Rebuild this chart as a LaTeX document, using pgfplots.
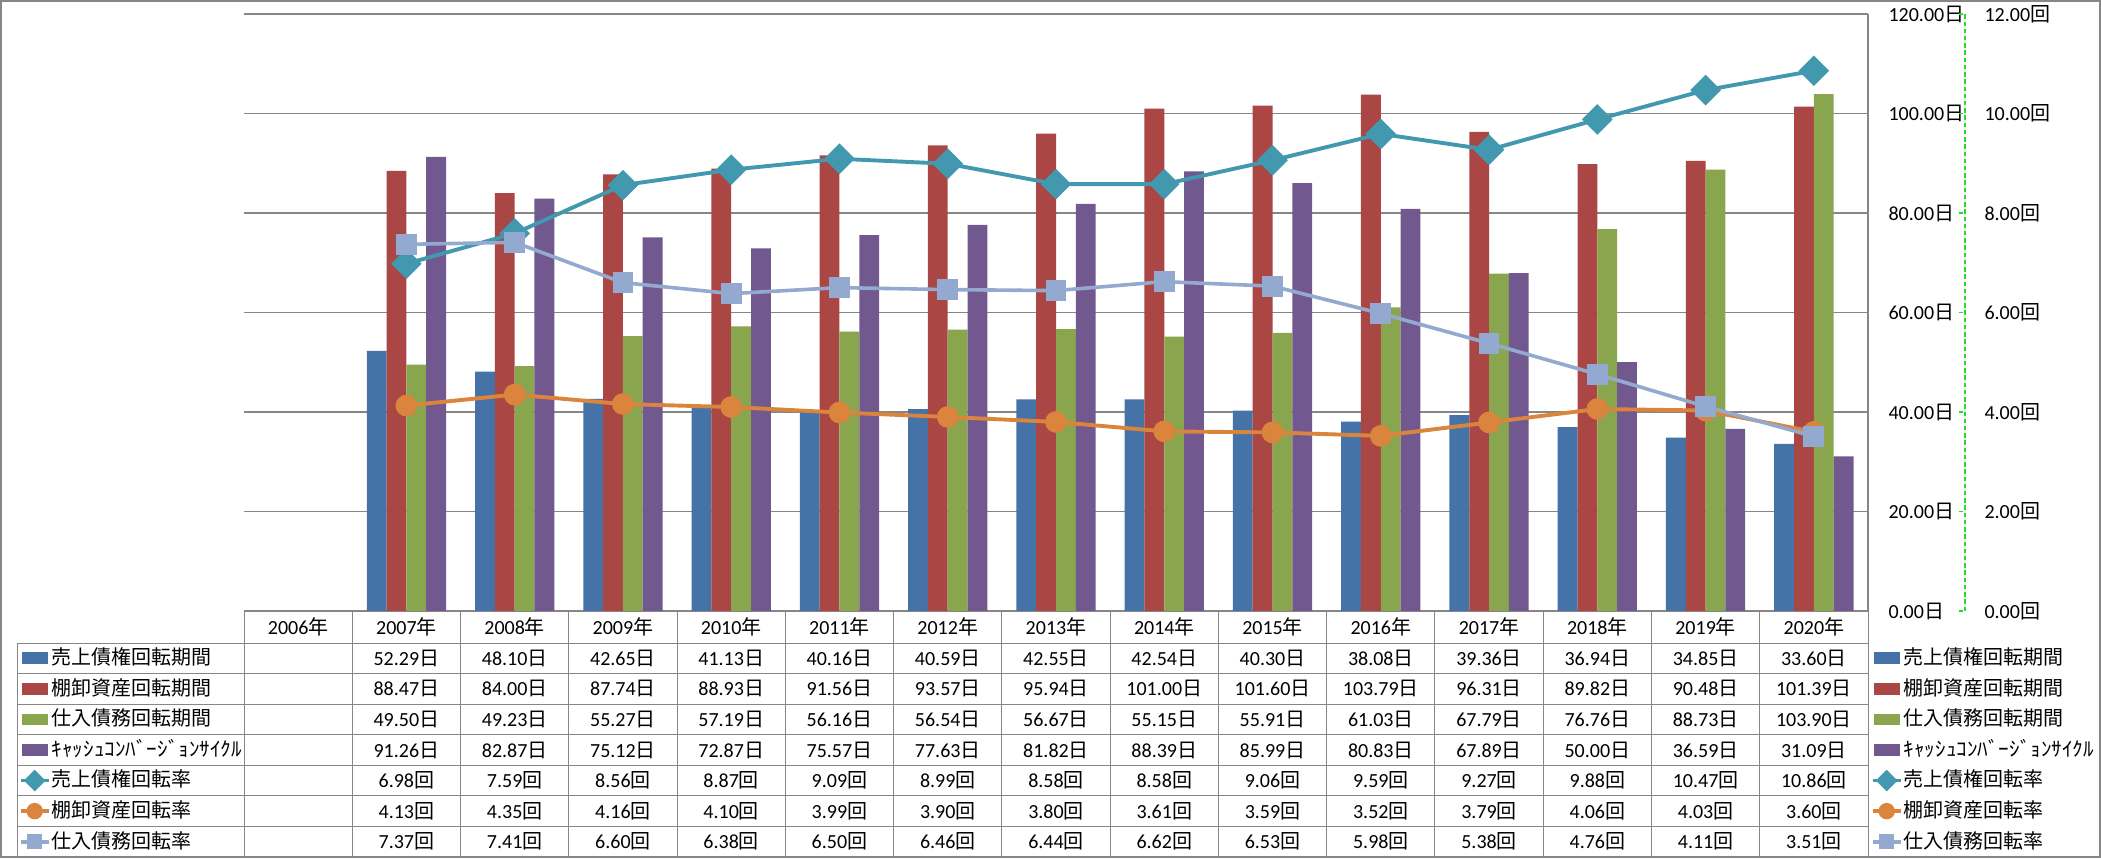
\documentclass[border=0pt]{standalone}
\usepackage{fontspec}
\setmainfont{Carlito}
\newfontfamily\jp{Noto Sans CJK JP}
\usepackage{graphicx}
\usepackage{pgfplots}
\usepackage{pgfplotstable}
\pgfplotsset{compat=1.18}
\definecolor{cA}{HTML}{4572A7}
\definecolor{cB}{HTML}{AA4643}
\definecolor{cC}{HTML}{89A54E}
\definecolor{cD}{HTML}{71588F}
\definecolor{cE}{HTML}{4198AF}
\definecolor{cF}{HTML}{DB843D}
\definecolor{cG}{HTML}{93A9CF}
\definecolor{gridc}{HTML}{868686}
\definecolor{gline}{HTML}{22DD22}
\newcommand\D{{\jp 日}}
\newcommand\K{{\jp 回}}
\newcommand\fs{\fontsize{7.2}{8.6}\selectfont}
\newcommand\ccc{\resizebox{68.5pt}{\height}{ｷｬｯｼｭｺﾝﾊﾞｰｼﾞｮﾝｻｲｸﾙ}}

\pgfplotstableread{
x a b c d e f g
1 52.29 88.47 49.50 91.26 6.98 4.13 7.37
2 48.10 84.00 49.23 82.87 7.59 4.35 7.41
3 42.65 87.74 55.27 75.12 8.56 4.16 6.60
4 41.13 88.93 57.19 72.87 8.87 4.10 6.38
5 40.16 91.56 56.16 75.57 9.09 3.99 6.50
6 40.59 93.57 56.54 77.63 8.99 3.90 6.46
7 42.55 95.94 56.67 81.82 8.58 3.80 6.44
8 42.54 101.00 55.15 88.39 8.58 3.61 6.62
9 40.30 101.60 55.91 85.99 9.06 3.59 6.53
10 38.08 103.79 61.03 80.83 9.59 3.52 5.98
11 39.36 96.31 67.79 67.89 9.27 3.79 5.38
12 36.94 89.82 76.76 50.00 9.88 4.06 4.76
13 34.85 90.48 88.73 36.59 10.47 4.03 4.11
14 33.60 101.39 103.90 31.09 10.86 3.60 3.51
}\data

\newcommand\barkey[1]{\addlegendimage{legend image code/.code={\fill[#1] (0.5pt,-1.9pt) rectangle (9.5pt,1.9pt);}}}
\newcommand\linekey[2]{\addlegendimage{legend image code/.code={\draw[#1, line width=1.3pt, mark repeat=2, mark phase=2, mark options={solid,fill=#1,draw=#1}, #2] plot coordinates {(0pt,0pt) (5pt,0pt) (10pt,0pt)};}}}

\pgfplotsset{
  base/.style={at={(87.84pt,88.92pt)}, anchor=south west, scale only axis,
    width=584.64pt, height=214.92pt, xmin=-0.5, xmax=14.5,
    axis x line=none, axis y line*=right, axis line style={-},
    major tick length=0pt,
    tick label style={font=\fs, anchor=west, inner sep=0pt}},
  keyaxis/.style={at={(0pt,0pt)}, anchor=south west, scale only axis,
    width=756.36pt, height=308.88pt, hide axis, xmin=0, xmax=1, ymin=0, ymax=1,
    legend cell align=left,
    legend style={draw=none, fill=none, inner sep=0pt, outer sep=0pt,
      row sep=0pt, column sep=0pt, font=\jp\fs,
      nodes={inner xsep=0.5pt, inner ysep=0pt, minimum height=11.005pt}}},
}

\begin{document}
\begin{tikzpicture}[x=0.36pt,y=0.36pt]
% primary axis (days)
\begin{axis}[base, ymin=0, ymax=120, ytick={0,20,...,120},
  ymajorgrids, grid style={gridc, line width=0.5pt},
  y axis line style={gridc, line width=0.5pt},
  yticklabel style={xshift=7.2pt},
  yticklabel={\pgfmathprintnumber[fixed,fixed zerofill,precision=2,assume math mode=true]{\tick}\D}]
\addplot[ybar, bar width=0.183, bar shift=-0.2745, fill=cA, draw=none] table[x=x,y=a]{\data};
\addplot[ybar, bar width=0.183, bar shift=-0.0915, fill=cB, draw=none] table[x=x,y=b]{\data};
\addplot[ybar, bar width=0.183, bar shift=0.0915, fill=cC, draw=none] table[x=x,y=c]{\data};
\addplot[ybar, bar width=0.183, bar shift=0.2745, fill=cD, draw=none] table[x=x,y=d]{\data};
\end{axis}
% secondary axis (times)
\begin{axis}[base, ymin=0, ymax=12, ytick={0,2,...,12},
  y axis line style={gline, line width=0.5pt, dash pattern=on 1.6pt off 1pt, xshift=34.92pt},
  major tick length=1.5pt, ytick style={gline, line width=0.5pt, xshift=34.2pt},
  yticklabel style={xshift=41.76pt},
  yticklabel={\pgfmathprintnumber[fixed,fixed zerofill,precision=2,assume math mode=true]{\tick}\K}]
\addplot[cE, line width=1.4pt, mark=square*, mark size=3.2pt, mark options={rotate=45, fill=cE, draw=cE}] table[x=x,y=e]{\data};
\addplot[cF, line width=1.4pt, mark=*, mark size=3.2pt, mark options={fill=cF, draw=cF}] table[x=x,y=f]{\data};
\addplot[cG, line width=1.3pt, mark=square*, mark size=3.1pt, mark options={fill=cG, draw=cG}] table[x=x,y=g]{\data};
\end{axis}
% row labels (left)
\begin{axis}[keyaxis, legend style={at={(19/2101,215/858)}, anchor=north west}]
\barkey{cA}\barkey{cB}\barkey{cC}\barkey{cD}
\linekey{cE}{mark=square*, mark size=2.1pt, mark options={rotate=45}}
\linekey{cF}{mark=*, mark size=2.3pt}
\linekey{cG}{mark=square*, mark size=2.1pt}
\legend{売上債権回転期間,棚卸資産回転期間,仕入債務回転期間,\ccc,売上債権回転率,棚卸資産回転率,仕入債務回転率}
\end{axis}
% legend (right)
\begin{axis}[keyaxis, legend style={at={(1871/2101,215/858)}, anchor=north west}]
\barkey{cA}\barkey{cB}\barkey{cC}\barkey{cD}
\linekey{cE}{mark=square*, mark size=2.1pt, mark options={rotate=45}}
\linekey{cF}{mark=*, mark size=2.3pt}
\linekey{cG}{mark=square*, mark size=2.1pt}
\legend{売上債権回転期間,棚卸資産回転期間,仕入債務回転期間,\ccc,売上債権回転率,棚卸資産回転率,仕入債務回転率}
\end{axis}
% data table grid
\begin{scope}[gridc, line width=0.36pt]
\foreach \k in {0,...,7} {\draw (17,{215-\k*30.571}) -- (1868,{215-\k*30.571});}
\draw (244,247) -- (1868,247);
\draw (17,215) -- (17,1);
\foreach \k in {0,...,15} {\draw ({244+\k*108.267},247) -- ({244+\k*108.267},1);}
\end{scope}
% header years
\foreach \yr [count=\i from 0] in {2006,...,2020} {
  \node[font=\fs, inner sep=0pt] at ({244+(\i+0.5)*108.267},231) {\yr{\jp 年}};
}
% table values
\foreach \c/\u [count=\ri from 0] in {a/\D,b/\D,c/\D,d/\D,e/\K,f/\K,g/\K} {
  \foreach \r in {0,...,13} {
    \pgfplotstablegetelem{\r}{\c}\of\data
    \let\val\pgfplotsretval
    \node[font=\fs, inner sep=0pt] at ({244+(\r+1.5)*108.267},{215-(\ri+0.5)*30.571})
      {\pgfmathprintnumber[fixed,fixed zerofill,precision=2,assume math mode=true]{\val}\u};
  }
}
% outer border
\draw[gridc, line width=0.72pt] (1,1) rectangle (2100,857);
\pgfresetboundingbox
\path (0,0) rectangle (2101,858);
\end{tikzpicture}
\end{document}
